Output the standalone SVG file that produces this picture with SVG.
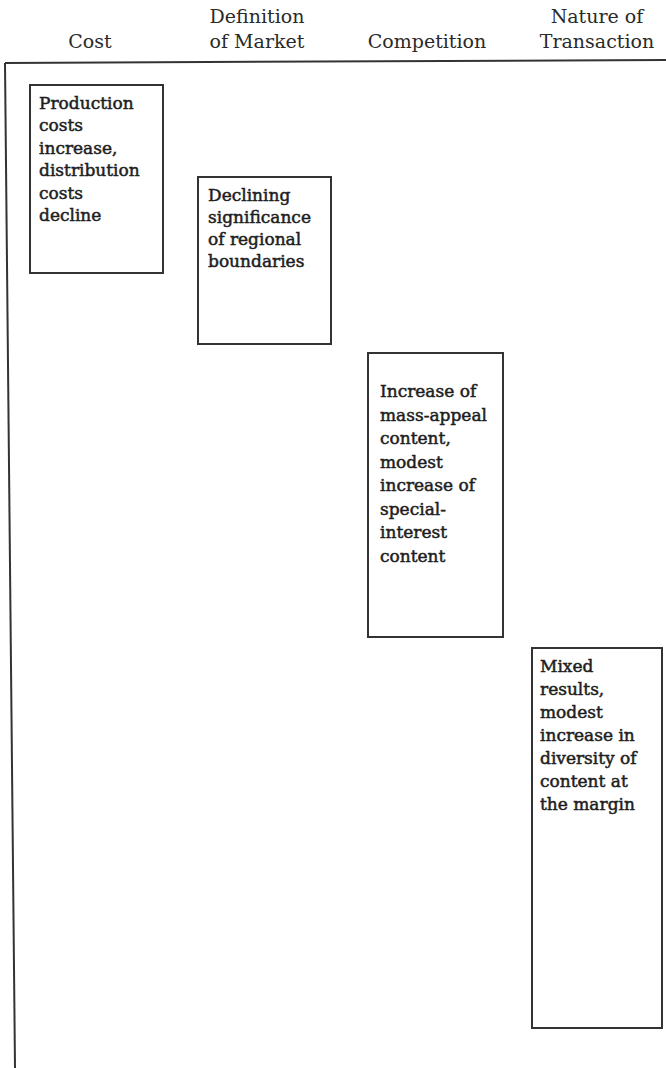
<svg xmlns="http://www.w3.org/2000/svg" width="666" height="1068" viewBox="0 0 666 1068">
  <style>
    .head { font-family: "DejaVu Serif", "Liberation Serif", serif; font-size: 19px; fill: #2a2a2a; text-anchor: middle; }
    .body { font-family: "DejaVu Serif", "Liberation Serif", serif; font-size: 17px; fill: #1e1e1e; stroke: #1e1e1e; stroke-width: 0.5px; }
    .frame { fill: none; stroke: #333; stroke-width: 2; }
    .box { fill: #fff; stroke: #333; stroke-width: 2; }
  </style>
  <rect width="666" height="1068" fill="#fff"/>

  <!-- column headings -->
  <g id="headings">
    <text class="head" x="90" y="48">Cost</text>
    <text class="head" x="257" y="23">Definition</text>
    <text class="head" x="257" y="48">of Market</text>
    <text class="head" x="427" y="48">Competition</text>
    <text class="head" x="597" y="23">Nature of</text>
    <text class="head" x="597" y="48">Transaction</text>
  </g>

  <!-- chart frame: top rule and left axis -->
  <g id="frame">
    <line class="frame" x1="5" y1="63" x2="666" y2="60"/>
    <line class="frame" x1="5" y1="63" x2="15" y2="1068"/>
  </g>

  <g id="node-cost">
    <rect class="box" x="30" y="85" width="133" height="188"/>
    <text class="body">
      <tspan x="39" y="109">Production</tspan>
      <tspan x="39" y="131">costs</tspan>
      <tspan x="39" y="153.5">increase,</tspan>
      <tspan x="39" y="176">distribution</tspan>
      <tspan x="39" y="198.5">costs</tspan>
      <tspan x="39" y="221">decline</tspan>
    </text>
  </g>

  <g id="node-market">
    <rect class="box" x="198" y="177" width="133" height="167"/>
    <text class="body">
      <tspan x="208" y="201">Declining</tspan>
      <tspan x="208" y="223">significance</tspan>
      <tspan x="208" y="245">of regional</tspan>
      <tspan x="208" y="267">boundaries</tspan>
    </text>
  </g>

  <g id="node-competition">
    <rect class="box" x="368" y="353" width="135" height="284"/>
    <text class="body">
      <tspan x="380" y="397">Increase of</tspan>
      <tspan x="380" y="420.5">mass-appeal</tspan>
      <tspan x="380" y="444">content,</tspan>
      <tspan x="380" y="467.5">modest</tspan>
      <tspan x="380" y="491">increase of</tspan>
      <tspan x="380" y="514.5">special-</tspan>
      <tspan x="380" y="538">interest</tspan>
      <tspan x="380" y="561.5">content</tspan>
    </text>
  </g>

  <g id="node-transaction">
    <rect class="box" x="532" y="648" width="130" height="380"/>
    <text class="body">
      <tspan x="540" y="672">Mixed</tspan>
      <tspan x="540" y="695">results,</tspan>
      <tspan x="540" y="718">modest</tspan>
      <tspan x="540" y="741">increase in</tspan>
      <tspan x="540" y="764">diversity of</tspan>
      <tspan x="540" y="787">content at</tspan>
      <tspan x="540" y="810">the margin</tspan>
    </text>
  </g>

  <g id="connectors"></g>
</svg>
